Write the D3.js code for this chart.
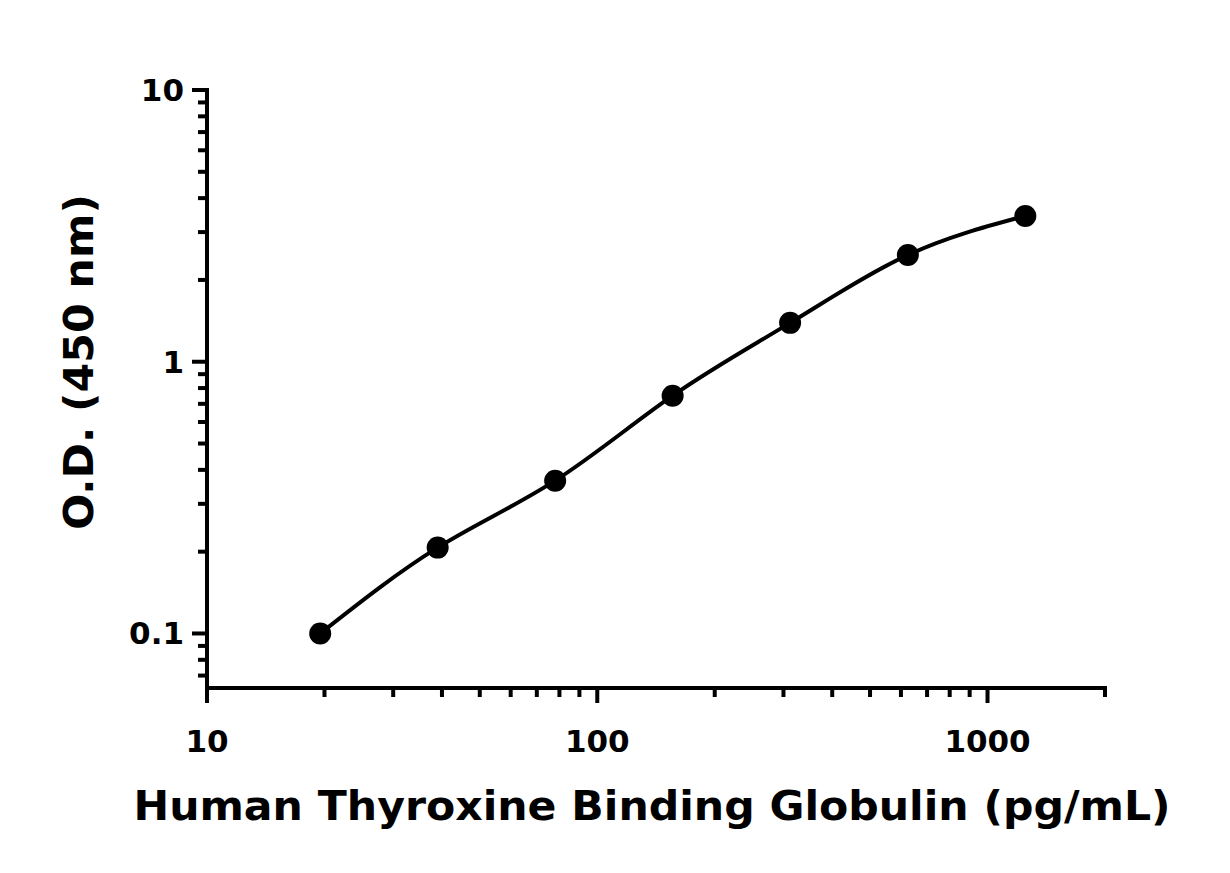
<!DOCTYPE html>
<html><head><meta charset="utf-8">
<script src="https://cdn.jsdelivr.net/npm/d3@7"></script>
<style>body{margin:0;background:#fff}</style>
</head><body><div id="chart"></div>
<script>
const conc = [19.5, 39, 78, 156, 312, 625, 1250];
const od = [0.1, 0.207, 0.365, 0.75, 1.39, 2.47, 3.44];
const xMajor = [10, 100, 1000];
const yMajor = [0.1, 1, 10];
const xLabel = "Human Thyroxine Binding Globulin (pg/mL)";
const yLabel = "O.D. (450 nm)";

const W = 1230, H = 873;
const svg = d3.select("#chart").append("svg").attr("width", W).attr("height", H);
const font = "'DejaVu Sans', sans-serif";

const x = d3.scaleLog().domain([10, 2000]).range([207, 1105]);
const y = d3.scaleLog().domain([0.063, 10]).range([688, 90]);

// minor ticks
const xMinor = [];
[10, 100, 1000].forEach(b => { for (let i = 2; i <= 9; i++) if (b * i <= 2000) xMinor.push(b * i); });
const yMinor = [0.07, 0.08, 0.09];
[0.1, 1].forEach(b => { for (let i = 2; i <= 9; i++) yMinor.push(b * i); });

const g = svg.append("g").attr("stroke", "#000").attr("stroke-width", 4);
g.append("line").attr("x1", 205).attr("x2", 1107).attr("y1", 688).attr("y2", 688);
g.append("line").attr("x1", 207).attr("x2", 207).attr("y1", 690).attr("y2", 88);
g.selectAll(".xm").data(xMinor).join("line").attr("x1", d => x(d)).attr("x2", d => x(d)).attr("y1", 688).attr("y2", 697);
g.selectAll(".xM").data(xMajor).join("line").attr("x1", d => x(d)).attr("x2", d => x(d)).attr("y1", 688).attr("y2", 703);
g.selectAll(".ym").data(yMinor).join("line").attr("y1", d => y(d)).attr("y2", d => y(d)).attr("x1", 207).attr("x2", 198);
g.selectAll(".yM").data(yMajor).join("line").attr("y1", d => y(d)).attr("y2", d => y(d)).attr("x1", 207).attr("x2", 192);

svg.selectAll(".xt").data(xMajor).join("text")
  .attr("x", d => x(d)).attr("y", 752).attr("text-anchor", "middle")
  .attr("font-family", font).attr("font-weight", "bold").attr("font-size", 31)
  .text(d => d);
svg.selectAll(".yt").data(yMajor).join("text")
  .attr("x", 184).attr("y", d => y(d) + 11).attr("text-anchor", "end")
  .attr("font-family", font).attr("font-weight", "bold").attr("font-size", 31)
  .text(d => d);

svg.append("text").attr("x", 652).attr("y", 820).attr("text-anchor", "middle")
  .attr("font-family", font).attr("font-weight", "bold").attr("font-size", 41)
  .attr("textLength", 1037).attr("lengthAdjust", "spacingAndGlyphs").text(xLabel);
svg.append("text").attr("transform", "translate(93,362) rotate(-90)").attr("text-anchor", "middle")
  .attr("font-family", font).attr("font-weight", "bold").attr("font-size", 41)
  .attr("textLength", 336).attr("lengthAdjust", "spacingAndGlyphs").text(yLabel);

const pts = conc.map((c, i) => [c, od[i]]);
svg.append("path").datum(pts)
  .attr("d", d3.line().x(d => x(d[0])).y(d => y(d[1])).curve(d3.curveNatural))
  .attr("fill", "none").attr("stroke", "#000").attr("stroke-width", 4);
svg.selectAll(".pt").data(pts).join("circle")
  .attr("cx", d => x(d[0])).attr("cy", d => y(d[1])).attr("r", 11).attr("fill", "#000");
</script></body></html>
